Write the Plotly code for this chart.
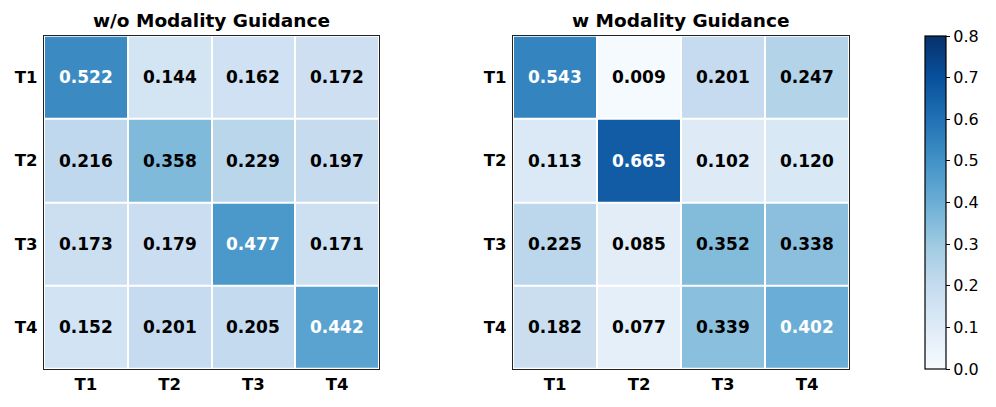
import plotly.graph_objects as go

labels = ["T1", "T2", "T3", "T4"]
title_left = "w/o Modality Guidance"
title_right = "w Modality Guidance"
vals_left = [
    [0.522, 0.144, 0.162, 0.172],
    [0.216, 0.358, 0.229, 0.197],
    [0.173, 0.179, 0.477, 0.171],
    [0.152, 0.201, 0.205, 0.442],
]
vals_right = [
    [0.543, 0.009, 0.201, 0.247],
    [0.113, 0.665, 0.102, 0.120],
    [0.225, 0.085, 0.352, 0.338],
    [0.182, 0.077, 0.339, 0.402],
]
zmin, zmax = 0.0, 0.8
cb_ticks = [0.0, 0.1, 0.2, 0.3, 0.4, 0.5, 0.6, 0.7, 0.8]

W, H = 996, 407
FONT = "DejaVu Sans"

def px(x):
    return x / W

def py(y):
    return 1 - y / H

fig = go.Figure()

panels = [
    (vals_left, "x", "y", (44, 379), title_left),
    (vals_right, "x2", "y2", (513, 849), title_right),
]
top, bottom = 35.7, 369

for i, (vals, xa, ya, (x0, x1), title) in enumerate(panels):
    fig.add_trace(go.Heatmap(
        z=vals, x=labels, y=labels, xaxis=xa, yaxis=ya,
        colorscale="Blues", zmin=zmin, zmax=zmax,
        xgap=2, ygap=2, showscale=(i == 0),
        hoverinfo="skip",
        colorbar=dict(
            x=px(925), xanchor="left", xref="paper", xpad=0, ypad=0,
            y=py(bottom), yanchor="bottom", len=(bottom - top) / H, lenmode="fraction",
            thickness=21, thicknessmode="pixels",
            outlinewidth=1.2, outlinecolor="black",
            tickvals=cb_ticks, ticktext=[f"{t:.1f}" for t in cb_ticks],
            ticks="outside", ticklen=4, tickcolor="black",
            tickfont=dict(family=FONT, size=16, color="black"),
        ),
    ))
    for r, row in enumerate(vals):
        for c, v in enumerate(row):
            fig.add_annotation(
                x=labels[c], y=labels[r], xref=xa, yref=ya,
                text=f"<b>{v:.3f}</b>", showarrow=False,
                font=dict(family=FONT, size=17,
                          color="white" if v > (zmin + zmax) / 2 else "black"),
            )
    fig.add_annotation(
        x=(px(x0) + px(x1)) / 2, y=py(top) + 3 / H, xref="paper", yref="paper",
        xanchor="center", yanchor="bottom", showarrow=False,
        text=f"<b>{title}</b>", font=dict(family=FONT, size=18.5, color="black"),
    )
    axis_common = dict(showline=True, mirror=True, linecolor="#222", linewidth=1.2,
                       showgrid=False, zeroline=False, ticks="", automargin=False,
                       tickfont=dict(family=FONT, size=16.5, color="black"))
    xk = "xaxis" if i == 0 else "xaxis2"
    yk = "yaxis" if i == 0 else "yaxis2"
    fig.layout[xk] = dict(domain=[px(x0), px(x1)], anchor=ya, side="bottom",
                          tickprefix="<b>", ticksuffix="</b>", ticklabelstandoff=0, **axis_common)
    fig.layout[yk] = dict(domain=[py(bottom), py(top)], anchor=xa, autorange="reversed",
                          tickprefix="<b>", ticksuffix="</b>", ticklabelstandoff=2, **axis_common)

fig.update_layout(
    width=W, height=H, margin=dict(l=0, r=0, t=0, b=0, autoexpand=False),
    paper_bgcolor="white", plot_bgcolor="white",
    showlegend=False,
)

fig.write_html(
    "out.html",
    config={"displayModeBar": False},
    post_script="document.body.style.margin='0';document.body.style.overflow='hidden';",
)
